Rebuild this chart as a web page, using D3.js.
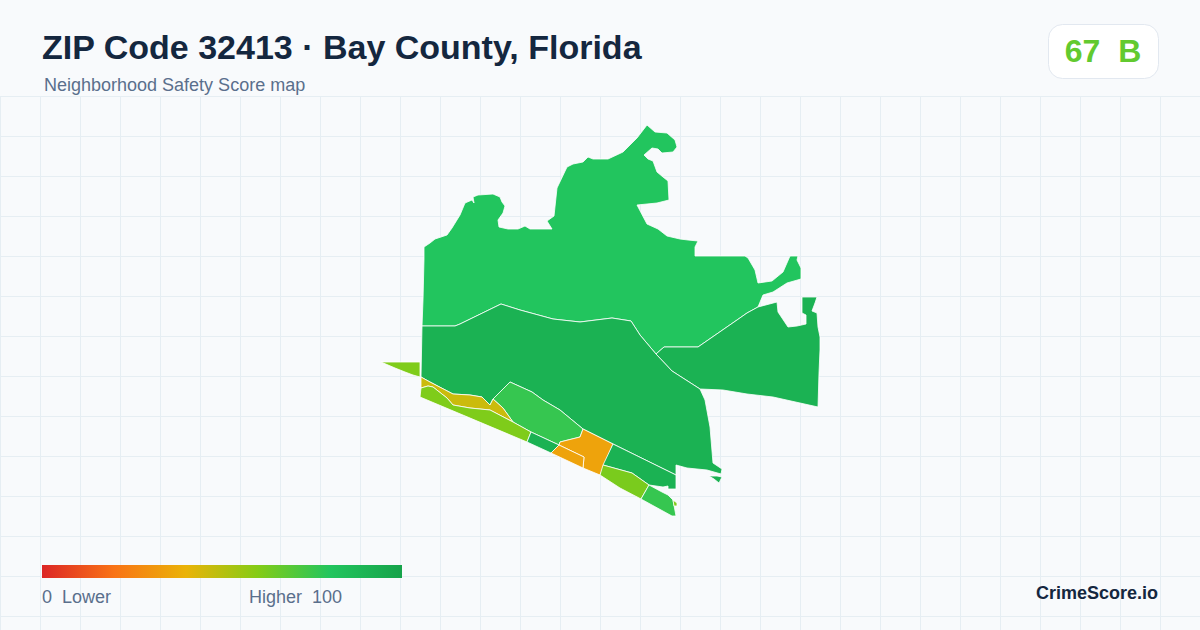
<!DOCTYPE html>
<html><head><meta charset="utf-8">
<script src="https://cdn.jsdelivr.net/npm/d3@7/dist/d3.min.js"></script>
<style>html,body{margin:0;padding:0;background:#f8fafc}svg{display:block}text{font-family:"Liberation Sans",Arial,sans-serif;white-space:pre}</style>
</head><body><svg id="c" width="1200" height="630"></svg>
<script>
const titleText = "ZIP Code 32413 · Bay County, Florida";
const subtitleText = "Neighborhood Safety Score map";
const overallScore = 67, overallGrade = "B";
const legendDomain = [0,20,40,60,80,100];
const legendColors = ["#dc2626","#f97316","#eab308","#84cc16","#22c55e","#16a34a"];
const legendLow = "0  Lower", legendHigh = "Higher  100", brand = "CrimeScore.io";

// traced map outlines, in map units
const northArea = [[422,326],[423,300],[424,259],[424,247],[430,243],[435,239],[447,235],[452,228],[460,215],[465,203],[472,200],[474,203],[473,197],[478,195],[493,194],[500,197],[502,202],[505,206],[503,213],[498,220],[499,227],[508,229],[518,229],[525,226],[530,229],[552,229],[547,221],[554,216],[557,188],[567,167],[573,164],[583,162],[588,157],[593,159],[608,159],[623,152],[637,138],[647,125],[655,132],[667,133],[675,140],[677,147],[673,152],[662,153],[658,149],[652,148],[644,155],[648,159],[653,161],[657,172],[663,177],[668,181],[669,200],[657,203],[637,205],[647,224],[658,229],[667,236],[680,239],[688,240],[698,241],[695,247],[695,256],[745,256],[748,258],[755,270],[758,283],[772,281],[783,272],[790,256],[798,256],[797,260],[801,268],[801,279],[787,283],[773,292],[763,295],[758,307],[747,313],[737,320],[698,347],[664,347],[656,354],[640,335],[631,321],[612,318],[580,322],[553,319],[520,310],[501,304],[460,324],[455,326]];
const eastArea = [[656,354],[664,347],[698,347],[737,320],[747,313],[758,307],[777,302],[778,312],[782,318],[788,327],[797,326],[806,324],[806,315],[802,313],[802,297],[817,297],[815,303],[812,311],[817,313],[818,327],[820,337],[820,350],[819,373],[818,407],[773,397],[747,394],[723,390],[700,389],[672,371]];
const middleArea = [[422,326],[455,326],[460,324],[501,304],[520,310],[553,319],[580,322],[612,318],[631,321],[640,335],[656,354],[672,371],[700,389],[705,400],[710,427],[713,463],[722,469],[721,474],[707,470],[687,468],[676,465],[676,475],[613,444],[583,429],[560,410],[543,400],[532,392],[510,382],[493,399],[490,405],[482,397],[470,395],[453,394],[430,382],[421,377]];
const islet = [[709,476],[717,476],[722,477],[719,483],[714,479]];
const innerGreen = [[493,399],[510,382],[532,392],[543,400],[560,410],[583,429],[580,437],[560,442],[559,445],[531,432],[513,422],[503,408]];
const oliveBand = [[421,377],[430,382],[453,394],[470,395],[482,397],[490,405],[493,399],[503,408],[513,422],[490,410],[470,408],[453,405],[447,398],[433,387],[428,386],[421,388]];
const westBeach = [[421,388],[428,386],[433,387],[447,398],[453,405],[470,408],[490,410],[513,422],[531,432],[527,442],[420,397]];
const westSpit = [[381,362],[420,362],[420,377],[413,375],[405,372],[395,368]];
const smallBlock = [[531,432],[559,445],[551,453],[527,442]];
const orangeMain = [[559,445],[560,442],[580,437],[583,429],[613,444],[600,475],[583,468],[584,457]];
const orangeLower = [[559,445],[584,457],[583,468],[551,453]];
const eastStrip = [[613,444],[676,475],[676,489],[668,489],[668,486],[663,487],[649,485],[632,473],[603,465]];
const eastBeach = [[603,465],[632,473],[649,485],[641,499],[620,488],[600,475]];
const tipBeach = [[649,485],[662,492],[668,495],[673,500],[676,516],[672,516],[641,499]];
const tipLot = [[673,500],[677,503],[677,506],[674,506]];

const regionShapes = [northArea,eastArea,middleArea,islet,innerGreen,oliveBand,westBeach,westSpit,smallBlock,orangeMain,orangeLower,eastStrip,eastBeach,tipBeach,tipLot];
const regionScores = [80,91,91,91,76,46,61,61,91,35,35,91,62,76,61];

const W=1200,H=630;
const svg=d3.select("#c");
const color=d3.scaleLinear().domain(legendDomain).range(legendColors).interpolate(d3.interpolateRgb);
const gridX=d3.range(0,W+1,40), gridY=d3.range(97,H,40);
const defs=svg.append("defs");
const grad=defs.append("linearGradient").attr("id","lg");
grad.selectAll("stop").data(legendDomain).join("stop").attr("offset",d=>d+"%").attr("stop-color",d=>color(d));

svg.append("rect").attr("width",W).attr("height",H).attr("fill","#f8fafc");
const grid=svg.append("g").attr("stroke","#e6eef3").attr("stroke-width",1);
grid.selectAll(".v").data(gridX).join("line").attr("x1",d=>d+.5).attr("x2",d=>d+.5).attr("y1",97).attr("y2",H);
grid.selectAll(".h").data(gridY).join("line").attr("x1",0).attr("x2",W).attr("y1",d=>d-.5).attr("y2",d=>d-.5);

const mx=d3.scaleLinear().domain([380,820]).range([380,820]);
const my=d3.scaleLinear().domain([120,520]).range([120,520]);
const line=d3.line().x(d=>mx(d[0])).y(d=>my(d[1])).curve(d3.curveLinearClosed);
svg.append("g").selectAll("path").data(regionShapes).join("path")
  .attr("d",line).attr("fill",(d,i)=>color(regionScores[i]))
  .attr("stroke","#ffffff").attr("stroke-width",0.8).attr("stroke-linejoin","round");

svg.append("text").attr("x",42).attr("y",59).attr("font-size",34).attr("font-weight",700).attr("fill","#14273f").text(titleText);
svg.append("text").attr("x",44).attr("y",91).attr("font-size",18).attr("fill","#5a6f8c").text(subtitleText);
svg.append("rect").attr("x",1048.5).attr("y",24.5).attr("width",110).attr("height",54).attr("rx",14).attr("fill","#fff").attr("stroke","#e2e8f0");
svg.append("text").attr("x",1103).attr("y",62).attr("text-anchor","middle").attr("font-size",32).attr("font-weight",700).attr("fill",color(overallScore)).text(overallScore+"  "+overallGrade);
svg.append("rect").attr("x",42).attr("y",565).attr("width",360).attr("height",13).attr("fill","url(#lg)");
svg.append("text").attr("x",42).attr("y",603).attr("font-size",18).attr("fill","#5a6f8c").text(legendLow);
svg.append("text").attr("x",249).attr("y",603).attr("font-size",18).attr("fill","#5a6f8c").text(legendHigh);
svg.append("text").attr("x",1158).attr("y",599).attr("text-anchor","end").attr("font-size",18).attr("font-weight",700).attr("fill","#14273f").text(brand);
</script></body></html>
